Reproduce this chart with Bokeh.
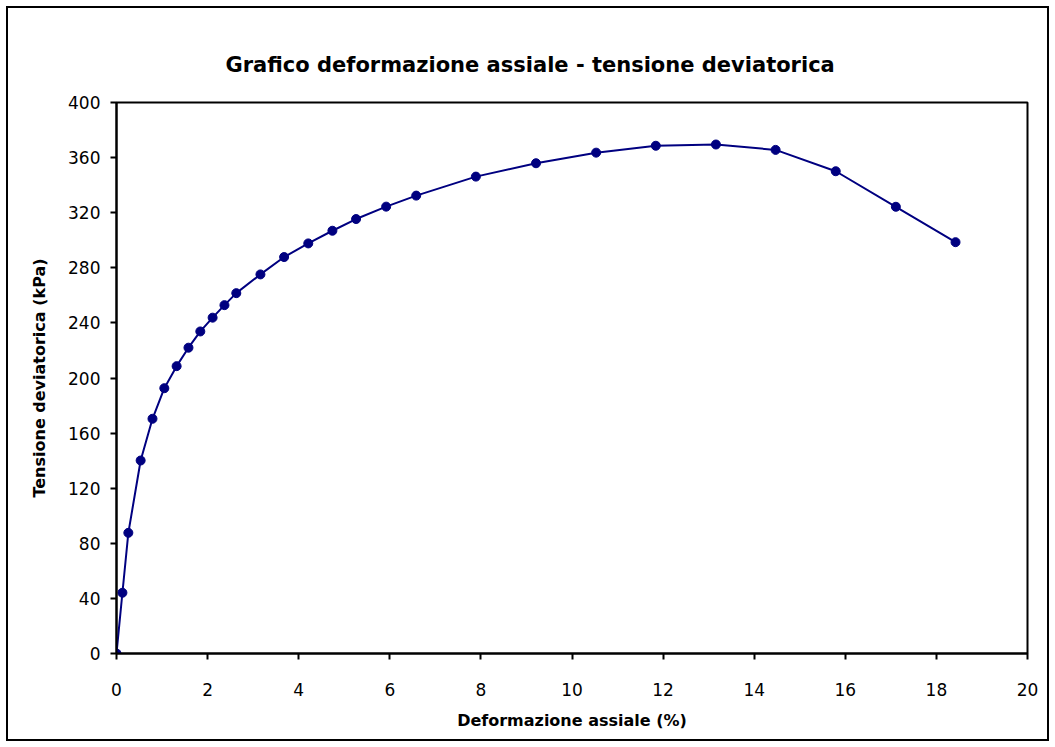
from bokeh.plotting import figure
from bokeh.embed import file_html
from bokeh.resources import INLINE
from bokeh.models import FixedTicker, Range1d

strain = [0.0, 0.13, 0.26, 0.53, 0.79, 1.05, 1.32, 1.58, 1.84, 2.11, 2.37, 2.63,
          3.16, 3.68, 4.21, 4.74, 5.26, 5.92, 6.58, 7.89, 9.21, 10.53, 11.84,
          13.16, 14.47, 15.79, 17.11, 18.42]
stress = [0.0, 44.1, 87.6, 140.1, 170.4, 192.6, 208.6, 222.0, 233.8, 243.8, 252.9, 261.6,
          275.2, 287.8, 297.7, 306.9, 315.4, 324.4, 332.4, 346.2, 355.9, 363.6, 368.6,
          369.5, 365.6, 350.1, 324.3, 298.6]
x_ticks = [0, 2, 4, 6, 8, 10, 12, 14, 16, 18, 20]
y_ticks = [0, 40, 80, 120, 160, 200, 240, 280, 320, 360, 400]

p = figure(width=1039, height=731, output_backend="svg", toolbar_location=None,
           x_range=Range1d(0, 20), y_range=Range1d(0, 400),
           title="Grafico deformazione assiale - tensione deviatorica",
           min_border_left=108, min_border_right=20, min_border_top=94,
           min_border_bottom=86)
p.frame_width = 911
p.frame_height = 551
p.margin = (6, 0, 0, 6)

p.line(strain, stress, line_color="#000080", line_width=2)
p.scatter(strain, stress, size=9, fill_color="#000080", line_color="#000080")

p.title.align = "left"
p.title.text_font = "DejaVu Sans"
p.title.text_font_size = "21px"
p.title.text_font_style = "bold"
p.title.text_color = "black"
p.title.offset = 109
p.title.standoff = 52

p.xgrid.visible = False
p.ygrid.visible = False
p.outline_line_color = "black"
p.outline_line_width = 2
p.outline_line_alpha = 1

for ax in (p.xaxis[0], p.yaxis[0]):
    ax.axis_line_color = "black"
    ax.axis_line_width = 2
    ax.major_tick_line_color = "black"
    ax.major_tick_line_width = 2
    ax.major_tick_out = 6
    ax.major_tick_in = 0
    ax.minor_tick_line_color = None
    ax.major_label_text_font = "DejaVu Sans"
    ax.major_label_text_font_size = "17px"
    ax.major_label_text_color = "black"
    ax.axis_label_text_font = "DejaVu Sans"
    ax.axis_label_text_font_size = "16px"
    ax.axis_label_text_font_style = "bold"
    ax.axis_label_text_color = "black"

p.xaxis[0].ticker = FixedTicker(ticks=x_ticks)
p.yaxis[0].ticker = FixedTicker(ticks=y_ticks)
p.xaxis[0].axis_label = "Deformazione assiale (%)"
p.yaxis[0].axis_label = "Tensione deviatorica (kPa)"
p.xaxis[0].major_label_standoff = 23
p.xaxis[0].axis_label_standoff = 12
p.yaxis[0].major_label_standoff = 10
p.yaxis[0].axis_label_standoff = 16

p.styles = {"border": "2px solid black", "box-sizing": "border-box"}

open("out.html", "w").write(file_html(p, INLINE))
